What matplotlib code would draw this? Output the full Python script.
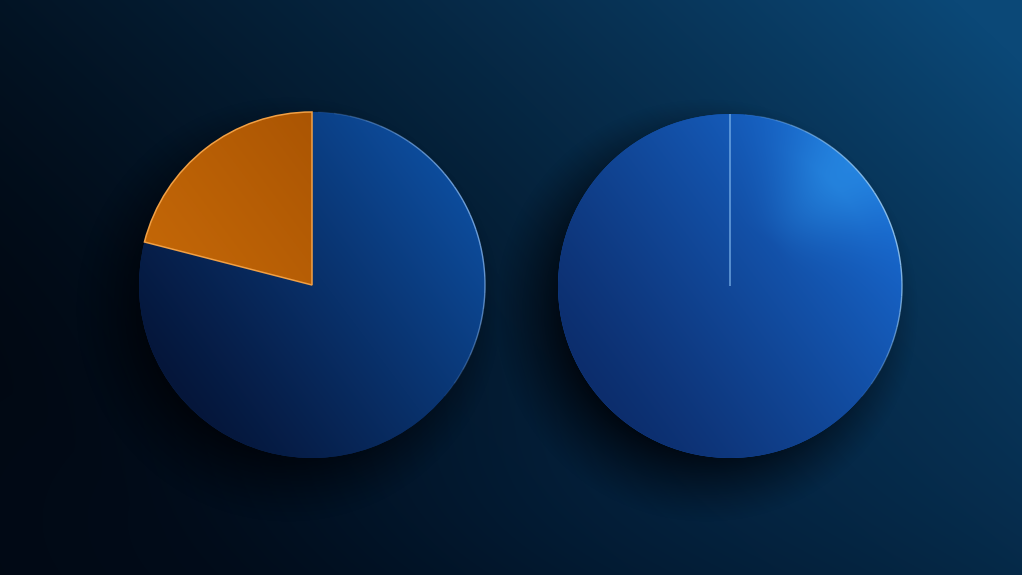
import numpy as np
import matplotlib
matplotlib.use("Agg")
import matplotlib.pyplot as plt
from matplotlib.patches import Wedge, Arc
from matplotlib.colors import to_rgb

# ---- data ----
left_labels = ["Orange share", "Blue share"]
left_values = [21, 79]
right_labels = ["Blue share", "Orange share"]
right_values = [100, 0]

W, H = 1022, 575
fig = plt.figure(figsize=(W / 100, H / 100), dpi=100)

# background gradient
bg = fig.add_axes([0, 0, 1, 1])
bg.set_axis_off()
yy, xx = np.mgrid[0:H, 0:W]
u = xx / W
v = 1 - yy / H  # 1 at top
t = np.clip(0.75 * u + 0.45 * v - 0.15, 0, 1) ** 1.4
c0 = np.array(to_rgb("#010812"))
c1 = np.array(to_rgb("#0b4877"))
img = c0 + (c1 - c0) * t[..., None]
img = img + np.array([0.0, 0.03, 0.06]) * np.exp(-((xx - 560) ** 2 / 2e5 + (yy - 520) ** 2 / 3e4))[..., None]
bg.imshow(np.clip(img, 0, 1), extent=(0, W, 0, H), origin="upper", aspect="auto")
bg.set_xlim(0, W)
bg.set_ylim(0, H)

ax = fig.add_axes([0, 0, 1, 1])
ax.set_axis_off()
ax.patch.set_alpha(0)

pies = [
    dict(values=left_values, labels=left_labels, cx=312, cy=H - 285, r=173,
         colors=["#b35a02", "#0b2a5c"]),
    dict(values=right_values, labels=right_labels, cx=730, cy=H - 286, r=172,
         colors=["#1352b0", "#1352b0"]),
]

# shadows
sh_y, sh_x = np.mgrid[0:H, 0:W]
alpha = np.zeros((H, W))
for p in pies:
    cx, cy, r = p["cx"] - 24, (H - p["cy"]) + 24, p["r"]
    d = np.hypot(sh_x - cx, sh_y - cy)
    a = np.clip((r + 40 - d) / 80, 0, 1) ** 1.2 * 0.9
    alpha = np.maximum(alpha, a)
shadow = np.zeros((H, W, 4))
shadow[..., 1] = 0.01
shadow[..., 2] = 0.03
shadow[..., 3] = alpha
ax.imshow(shadow, extent=(0, W, 0, H), origin="upper", zorder=1, aspect="auto")


def grad_image(cx, cy, r, cdark, cbright, highlight=None):
    n = 400
    gy, gx = np.mgrid[0:n, 0:n]
    uu = (gx / (n - 1)) * 2 - 1
    vv = 1 - (gy / (n - 1)) * 2
    tt = np.clip((0.8 * uu + 0.6 * vv) / 2 + 0.5, 0, 1)
    a = np.array(to_rgb(cdark))
    b = np.array(to_rgb(cbright))
    im = a + (b - a) * (tt ** 1.1)[..., None]
    if highlight is not None:
        hc = np.array(to_rgb(highlight))
        ang = np.degrees(np.arctan2(vv, uu))
        rr = np.hypot(uu, vv)
        h = np.exp(-((ang - 45) ** 2) / 500) * np.clip((rr - 0.35) / 0.5, 0, 1) * 0.55
        im = im + (hc - im) * h[..., None]
    return np.clip(im, 0, 1), (cx - r, cx + r, cy - r, cy + r)


def rim(center, r, t1, t2, color):
    steps = 24
    edges = np.linspace(t1, t2, steps + 1)
    for k in range(steps):
        m = (k + 0.5) / steps
        a = np.sin(np.pi * m) ** 0.8 * 0.85
        ax.add_patch(Arc(center, 2 * r, 2 * r, theta1=edges[k], theta2=edges[k + 1],
                         edgecolor=color, linewidth=1.0, alpha=a, zorder=4))


for i, p in enumerate(pies):
    wedges, _ = ax.pie(p["values"], colors=p["colors"], startangle=90,
                       counterclock=True, center=(p["cx"], p["cy"]),
                       radius=p["r"], frame=True,
                       wedgeprops=dict(linewidth=0, zorder=2))
    if i == 0:
        im_o, ext = grad_image(p["cx"], p["cy"], p["r"], "#c96b08", "#a24f02")
        imo = ax.imshow(im_o, extent=ext, origin="upper", zorder=3, aspect="auto")
        imo.set_clip_path(wedges[0])
        im_b, ext = grad_image(p["cx"], p["cy"], p["r"], "#05163a", "#0d4c9c")
        imb = ax.imshow(im_b, extent=ext, origin="upper", zorder=3, aspect="auto")
        imb.set_clip_path(wedges[1])
        w = wedges[0]
        ax.add_patch(Wedge(w.center, w.r, w.theta1, w.theta2, fill=False,
                           edgecolor="#f2a044", linewidth=1.1, zorder=4))
        rim(w.center, w.r, -40, 88, "#7fb0ea")
    else:
        im_b, ext = grad_image(p["cx"], p["cy"], p["r"], "#0c2d6c", "#1766cc",
                               highlight="#2f9cf0")
        imb = ax.imshow(im_b, extent=ext, origin="upper", zorder=3, aspect="auto")
        imb.set_clip_path(wedges[0])
        w = wedges[1]
        ax.add_patch(Wedge(w.center, w.r, w.theta1, w.theta2, fill=False,
                           edgecolor="#7fb6ec", linewidth=0.9, zorder=4))
        rim(w.center, w.r, -40, 85, "#9ccdf5")

ax.set_xlim(0, W)
ax.set_ylim(0, H)
ax.set_aspect("auto")

fig.savefig("out.png", dpi=100)
